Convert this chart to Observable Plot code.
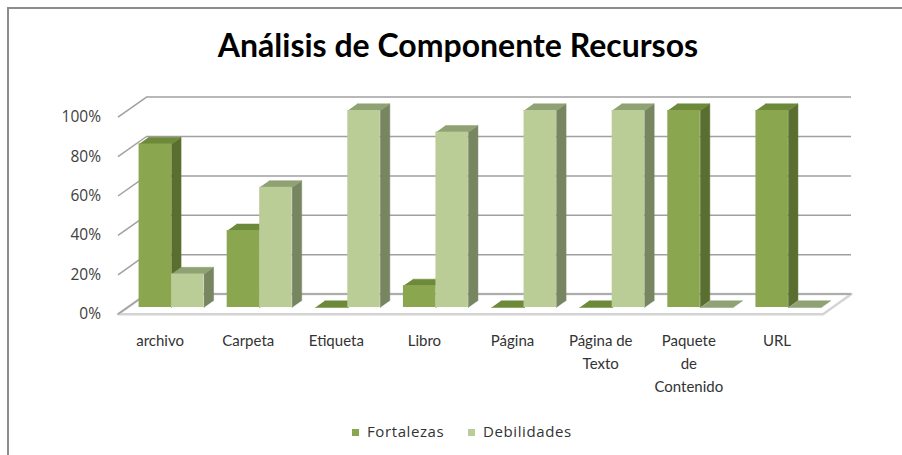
<!DOCTYPE html>
<html>
<head>
<meta charset="utf-8">
<script src="https://cdn.jsdelivr.net/npm/d3@7"></script>
<script src="https://cdn.jsdelivr.net/npm/@observablehq/plot@0.6"></script>
<style>
  html, body { margin: 0; padding: 0; background: #fff; }
  #wrap { position: relative; width: 902px; height: 455px; overflow: hidden; font-family: Lato, "Open Sans", sans-serif; }
  #frame { position: absolute; left: 7px; top: 7px; width: 1000px; height: 1000px; border-top: 2px solid #8c8c8c; border-left: 2px solid #8c8c8c; pointer-events: none; }
  #title { height: 80px; box-sizing: border-box; padding-top: 29px; line-height: 32px; font-size: 32px; font-weight: bold; color: #000; text-align: center; padding-left: 14px; }
  #chart { height: 320px; }
  #chart svg { display: block; }
  #legend { position: relative; height: 55px; font-family: "Open Sans", sans-serif; font-size: 15px; letter-spacing: 0.6px; color: #333; }
  .item { position: absolute; top: 22px; line-height: 18px; white-space: nowrap; }
  .sw { display: inline-block; width: 7px; height: 7px; margin-right: 8px; vertical-align: 1px; }
</style>
</head>
<body>
<div id="wrap">
  <div id="frame"></div>
  <div id="title">Análisis de Componente Recursos</div>
  <div id="chart"></div>
  <div id="legend"></div>
</div>
<script>
// ---- data ----
const categories = ["archivo", "Carpeta", "Etiqueta", "Libro", "Página", "Página de Texto", "Paquete de Contenido", "URL"];
const categoryTickLabels = ["archivo", "Carpeta", "Etiqueta", "Libro", "Página", "Página de\nTexto", "Paquete\nde\nContenido", "URL"];
const fortalezas = [83, 39, 0, 11, 0, 0, 100, 100];
const debilidades = [17, 61, 100, 89, 100, 100, 0, 0];
const seriesNames = ["Fortalezas", "Debilidades"];
const yTicks = [0, 20, 40, 60, 80, 100];
const yTickLabels = ["0%", "20%", "40%", "60%", "80%", "100%"];

// ---- styling ----
const colors = {
  Fortalezas:  {front: "#8aa64e", side: "#5a6e30", top: "#6d8a3a"},
  Debilidades: {front: "#bbcd97", side: "#778660", top: "#8fa274"}
};
const W = 902, H = 320;
const mL = 127, mR = 70, mT = 30, mB = 93;
const pxPerX = (W - mL - mR) / categories.length;   // px per category unit
const pxPerY = (H - mT - mB) / 100;                 // px per percent
const DX = 9.5 / pxPerX;   // depth step, in x data units
const DY = 6.7 / pxPerY;   // depth step, in y data units
const BW = 32.5 / pxPerX;  // bar width in x data units

// bars
const bars = [];
categories.forEach((c, i) => {
  const mid = i + 0.5;
  bars.push({cat: c, s: "Fortalezas", x1: mid - BW, x2: mid, v: fortalezas[i]});
  bars.push({cat: c, s: "Debilidades", x1: mid, x2: mid + BW, v: debilidades[i]});
});
function faces(kind, s) {
  const pts = [];
  bars.filter(b => b.s === s).forEach((b, k) => {
    const id = s + k;
    let poly;
    if (kind === "side") poly = [[b.x2, 0], [b.x2, b.v], [b.x2 + DX, b.v + DY], [b.x2 + DX, DY]];
    else poly = [[b.x1, b.v], [b.x2, b.v], [b.x2 + DX, b.v + DY], [b.x1 + DX, b.v + DY]];
    poly.forEach(p => pts.push({id, x: p[0], y: p[1]}));
  });
  return pts;
}
const n = categories.length;
const floor = [[-DX, -DY], [n - DX, -DY], [n + 2 * DX, 2 * DY], [2 * DX, 2 * DY], [-DX, -DY]].map(p => ({x: p[0], y: p[1]}));

const marks = [
  Plot.line(floor, {x: "x", y: "y", fill: "#ffffff", stroke: "#d4d4d4", strokeWidth: 2.5}),
  Plot.ruleY(yTicks, {y: d => d + 2 * DY, x1: 2 * DX, x2: n + 2 * DX, stroke: "#a0a0a0", strokeWidth: 1.5}),
  Plot.link(yTicks, {x1: -DX, y1: d => d - DY, x2: 2 * DX, y2: d => d + 2 * DY, stroke: "#a0a0a0", strokeWidth: 1.5})
];
for (const s of seriesNames) {
  const c = colors[s];
  marks.push(Plot.line(faces("side", s), {x: "x", y: "y", z: "id", fill: c.side, stroke: c.side, strokeWidth: 0.5}));
  marks.push(Plot.line(faces("top", s), {x: "x", y: "y", z: "id", fill: c.top, stroke: c.top, strokeWidth: 0.5}));
  marks.push(Plot.rect(bars.filter(b => b.s === s), {x1: "x1", x2: "x2", y1: 0, y2: "v", fill: c.front}));
}
marks.push(Plot.text(yTicks, {x: -DX, y: d => d - DY, text: (d, i) => yTickLabels[i], textAnchor: "end", dx: -17, fontSize: 15.5, fontFamily: "'Open Sans', sans-serif", fill: "#404040"}));
marks.push(Plot.text(categoryTickLabels, {x: (d, i) => i + 0.5 - DX, y: -DY, text: d => d, lineAnchor: "top", lineHeight: 1.55, dy: 15, dx: -2, fontSize: 15, fill: "#333333"}));

const chart = Plot.plot({
  width: W, height: H,
  marginLeft: mL, marginRight: mR, marginTop: mT, marginBottom: mB,
  x: {domain: [0, n], axis: null},
  y: {domain: [0, 100], axis: null},
  style: {fontFamily: "Lato, 'Open Sans', sans-serif", background: "transparent", overflow: "visible"},
  marks
});
document.getElementById("chart").appendChild(chart);

const legend = document.getElementById("legend");
const legendLefts = [352, 468];
seriesNames.forEach((s, i) => {
  const it = document.createElement("div");
  it.className = "item";
  it.style.left = legendLefts[i] + "px";
  const sw = document.createElement("span");
  sw.className = "sw";
  sw.style.background = colors[s].front;
  it.appendChild(sw);
  it.appendChild(document.createTextNode(s));
  legend.appendChild(it);
});
</script>
</body>
</html>
